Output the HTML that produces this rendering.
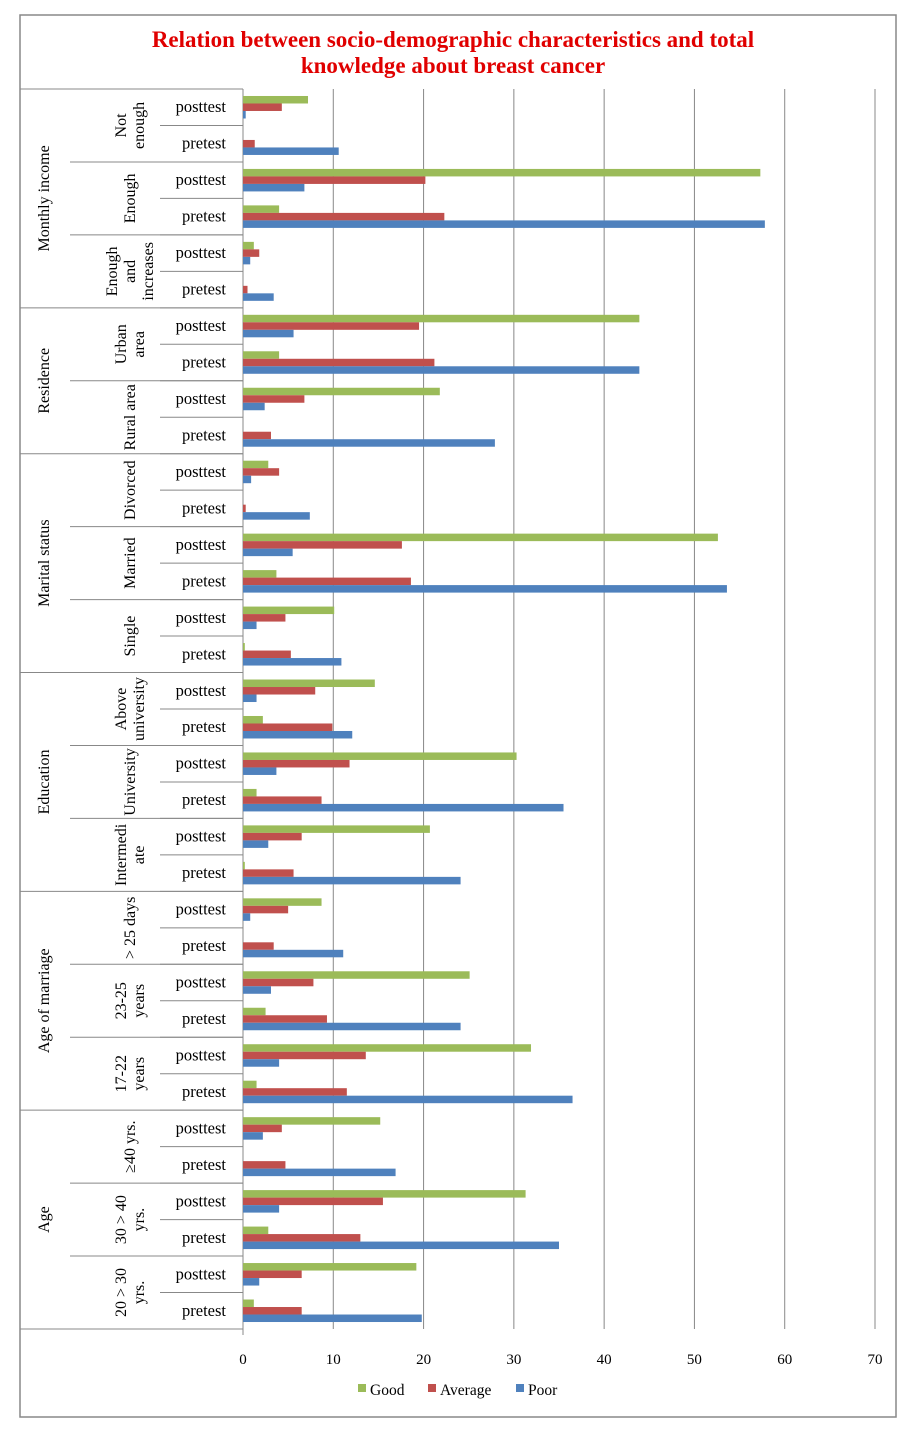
<!DOCTYPE html>
<html><head><meta charset="utf-8"><style>
body{margin:0;background:#fff;}
svg{display:block;font-family:"Liberation Serif",serif;}
</style></head><body>
<svg id="chart" width="913" height="1439">
<rect x="20" y="15" width="876" height="1402" fill="#fff" stroke="#888" stroke-width="1.5"/>
<text x="453" y="47" text-anchor="middle" fill="#e00000" font-weight="bold" font-size="23">Relation between socio-demographic characteristics and total</text>
<text x="453" y="73" text-anchor="middle" fill="#e00000" font-weight="bold" font-size="23">knowledge about breast cancer</text>
<g id="grid"></g><g id="bars"></g><g id="labels"></g>
</svg>
<script>
const groups=["Monthly income","Residence","Marital status","Education","Age of marriage","Age"];
const subgroups=[["Monthly income",["Not","enough"]],["Monthly income",["Enough"]],["Monthly income",["Enough","and","increases"]],["Residence",["Urban","area"]],["Residence",["Rural area"]],["Marital status",["Divorced"]],["Marital status",["Married"]],["Marital status",["Single"]],["Education",["Above","university"]],["Education",["University"]],["Education",["Intermedi","ate"]],["Age of marriage",["> 25 days"]],["Age of marriage",["23-25","years"]],["Age of marriage",["17-22","years"]],["Age",["≥40 yrs."]],["Age",["30 > 40","yrs."]],["Age",["20 > 30","yrs."]]];
const tests=["posttest","pretest"];
const good=[7.2,0,57.3,4,1.2,0,43.9,4,21.8,0,2.8,0,52.6,3.7,10.1,0.2,14.6,2.2,30.3,1.5,20.7,0.2,8.7,0,25.1,2.5,31.9,1.5,15.2,0,31.3,2.8,19.2,1.2];
const average=[4.3,1.3,20.2,22.3,1.8,0.5,19.5,21.2,6.8,3.1,4,0.3,17.6,18.6,4.7,5.3,8,9.9,11.8,8.7,6.5,5.6,5,3.4,7.8,9.3,13.6,11.5,4.3,4.7,15.5,13,6.5,6.5];
const poor=[0.3,10.6,6.8,57.8,0.8,3.4,5.6,43.9,2.4,27.9,0.9,7.4,5.5,53.6,1.5,10.9,1.5,12.1,3.7,35.5,2.8,24.1,0.8,11.1,3.1,24.1,4,36.5,2.2,16.9,4,35,1.8,19.8];
const ticks=[0,10,20,30,40,50,60,70];
const seriesNames=["Good","Average","Poor"];
const colors=["#9bbb59","#c0504d","#4f81bd"];
const NS="http://www.w3.org/2000/svg";
const X0=243,X1=875,Y0=89,Y1=1329,N=34,RH=(Y1-Y0)/N;
const xs=v=>X0+(v-0)/(70-0)*(X1-X0);
function mk(tag,attrs,parent,text){const e=document.createElementNS(NS,tag);for(const k in attrs)e.setAttribute(k,attrs[k]);if(text!==undefined)e.textContent=text;parent.appendChild(e);return e;}
const grid=document.getElementById('grid'),bars=document.getElementById('bars'),lab=document.getElementById('labels');
ticks.forEach(t=>{
 if(t>0){const l=mk('line',{x1:xs(t),x2:xs(t),y1:Y0,y2:Y1,stroke:'#888','stroke-width':1},grid);
 
 }
 const tx=mk('text',{x:xs(t),y:1364,'text-anchor':'middle','font-size':15},lab,String(t));
 
 
});
mk('line',{x1:X0,x2:X0,y1:Y0,y2:Y1,stroke:'#888'},grid);
mk('line',{x1:20,x2:X0,y1:Y0,y2:Y0,stroke:'#888'},grid);
mk('line',{x1:20,x2:X0,y1:Y1,y2:Y1,stroke:'#888'},grid);
mk('line',{x1:X0,x2:X0+0,y1:Y1,y2:Y1+6,stroke:'#888'},grid);
const vals=[good,average,poor];
for(let i=0;i<N;i++){
 const top=Y0+i*RH, bh=7.5, start=top+RH/2-bh*1.5;
 for(let s=0;s<3;s++){
  const r=mk('rect',{x:X0,y:start+s*bh,width:Math.max(0,xs(vals[s][i])-X0),height:bh,fill:colors[s]},bars);
  
  
 }
 const t=mk('text',{x:226,y:top+RH/2+5,'text-anchor':'end','font-size':16.5},lab,tests[i%2]);
 
 
 if(i<N-1) mk('line',{x1:160,x2:X0,y1:top+RH,y2:top+RH,stroke:'#888'},grid);
}
let gStart={};
subgroups.forEach((sg,j)=>{
 const top=Y0+j*2*RH,bot=top+2*RH,cy=(top+bot)/2;
 const isGroupEnd=(j==subgroups.length-1)||subgroups[j+1][0]!==sg[0];
 if(j<subgroups.length-1) mk('line',{x1:isGroupEnd?20:70,x2:X0,y1:bot,y2:bot,stroke:'#888'},grid);
 const lines=sg[1],n=lines.length,lh=18;
 lines.forEach((ln,k)=>{
  const x=130+(k-(n-1)/2)*lh+5;
  const tx=mk('text',{x:x,y:cy,'text-anchor':'middle','font-size':16,transform:`rotate(-90 ${x} ${cy})`},lab,ln);
  
  
 });
 if(gStart[sg[0]]===undefined)gStart[sg[0]]=[top,bot];else gStart[sg[0]][1]=bot;
});
groups.forEach((g,i)=>{
 const [a,b]=gStart[g],cy=(a+b)/2,x=49;
 const tx=mk('text',{x:x,y:cy,'text-anchor':'middle','font-size':16,transform:`rotate(-90 ${x} ${cy})`},lab,g);
 
 
});
const lx=[358,428,516];
seriesNames.forEach((s,i)=>{
 const r=mk('rect',{x:lx[i],y:1384,width:8,height:8,fill:colors[i]},lab);
 
 
 const t=mk('text',{x:lx[i]+12,y:1395,'font-size':15.5},lab,s);
 
 
});
</script>
</body></html>
